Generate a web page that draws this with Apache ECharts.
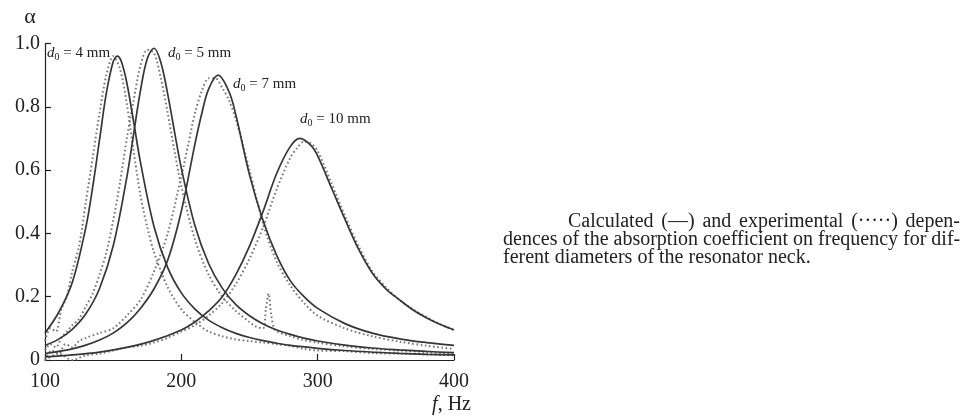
<!DOCTYPE html>
<html>
<head>
<meta charset="utf-8">
<script src="https://cdn.jsdelivr.net/npm/echarts@6/dist/echarts.min.js"></script>
<style>html,body{margin:0;padding:0;background:#fff;}#c{width:972px;height:420px;}</style>
</head>
<body>
<div id="c"></div>
<script>
// ---- data ----
const xTicks = [100, 200, 300, 400];
const yTickLabels = ['0', '0.2', '0.4', '0.6', '0.8', '1.0'];

// calculated, d0 = 4 mm
const freqCalc4 = [100,110,120,130,135,140,145,150,153,156,160,165,170,180,190,200,210,220,230,240,250,260,270,280,300,320,340,360,380,400];
const calc4     = [0.085,0.15,0.245,0.42,0.547,0.696,0.843,0.942,0.96,0.943,0.876,0.753,0.625,0.421,0.292,0.212,0.161,0.126,0.102,0.084,0.071,0.061,0.053,0.046,0.037,0.030,0.025,0.021,0.018,0.016];
// calculated, d0 = 5 mm
const freqCalc5 = [100,110,120,130,140,150,160,165,170,175,180,185,190,195,200,210,220,230,240,250,260,270,280,290,300,320,340,360,380,400];
const calc5     = [0.046,0.066,0.097,0.146,0.226,0.36,0.577,0.714,0.851,0.952,0.985,0.94,0.84,0.721,0.606,0.424,0.305,0.227,0.175,0.14,0.114,0.095,0.081,0.069,0.060,0.047,0.038,0.032,0.027,0.023];
// calculated, d0 = 7 mm
const freqCalc7 = [100,110,120,130,140,150,160,170,180,190,200,210,215,220,227,235,240,250,260,270,280,290,300,320,340,360,380,400];
const calc7     = [0.020,0.027,0.035,0.047,0.063,0.085,0.117,0.163,0.225,0.315,0.47,0.683,0.779,0.856,0.90,0.847,0.774,0.585,0.44,0.33,0.25,0.20,0.163,0.115,0.085,0.067,0.055,0.046];
// calculated, d0 = 10 mm
const freqCalc10 = [100,120,140,160,180,200,210,220,230,240,250,260,270,280,287,295,300,310,320,330,340,350,360,370,380,390,400];
const calc10     = [0.010,0.016,0.025,0.040,0.062,0.095,0.12,0.155,0.20,0.27,0.36,0.47,0.59,0.675,0.70,0.678,0.645,0.545,0.445,0.35,0.275,0.225,0.19,0.158,0.133,0.112,0.095];

// experimental, d0 = 4 mm
const freqExp4 = [100,104,108,112,116,120,125,130,135,140,145,150,155,160,165,170,175,180,190,200,210,220,230,240,250,260,270,280,290,300,320,340,360,380,400];
const exp4     = [0.06,0.10,0.09,0.16,0.20,0.28,0.36,0.50,0.64,0.78,0.90,0.96,0.92,0.81,0.66,0.52,0.42,0.34,0.23,0.16,0.12,0.09,0.075,0.065,0.06,0.055,0.05,0.045,0.035,0.03,0.028,0.022,0.02,0.018,0.015];
// experimental, d0 = 5 mm
const freqExp5 = [100,104,108,112,116,120,125,130,135,140,145,150,155,160,165,170,175,180,185,190,195,200,210,220,230,240,250,255,260,262,264,266,268,270,280,290,300,320,340,360,380,400];
const exp5     = [0.03,0.05,0.04,0.07,0.09,0.11,0.13,0.17,0.21,0.27,0.34,0.44,0.56,0.70,0.82,0.93,0.98,0.97,0.89,0.78,0.66,0.55,0.38,0.27,0.20,0.155,0.12,0.105,0.10,0.16,0.21,0.14,0.10,0.09,0.075,0.063,0.055,0.043,0.035,0.03,0.025,0.02];
// experimental, d0 = 7 mm
const freqExp7 = [100,105,110,115,120,125,130,140,150,160,170,180,190,200,205,210,215,220,225,230,235,240,250,260,270,280,290,300,320,340,360,380,400];
const exp7     = [0.0,0.03,0.02,0.05,0.04,0.06,0.07,0.085,0.10,0.14,0.19,0.28,0.40,0.58,0.68,0.78,0.85,0.89,0.89,0.86,0.82,0.76,0.60,0.43,0.31,0.235,0.18,0.14,0.10,0.075,0.058,0.045,0.035];
// experimental, d0 = 10 mm
const freqExp10 = [100,110,120,130,140,150,160,170,180,190,200,210,220,230,240,250,260,270,280,285,290,295,300,310,320,330,340,350,360,370,380,390,400];
const exp10     = [0.0,0.02,0.0,0.015,0.02,0.03,0.04,0.045,0.055,0.07,0.09,0.11,0.14,0.18,0.24,0.32,0.42,0.54,0.64,0.67,0.69,0.685,0.66,0.56,0.455,0.36,0.28,0.23,0.19,0.16,0.135,0.113,0.095];

const curveLabels = ['4', '5', '7', '10'];
const captionLine1Words = ['Calculated', '(\u2014)', 'and', 'experimental', '(\u00B7\u00B7\u00B7\u00B7\u00B7)', 'depen-'];
const captionLine2 = 'dences of the absorption coefficient on frequency for dif-';
const captionLine3 = 'ferent diameters of the resonator neck.';

// ---- chart ----
const zip = (xs, ys) => xs.map((x, i) => [x, ys[i]]);
const SERIF = "'Liberation Serif', 'Times New Roman', serif";
const INK = '#222';

function calcSeries(name, xs, ys) {
  return { name, type: 'line', data: zip(xs, ys), symbol: 'none', smooth: 0.35, z: 3,
    lineStyle: { color: '#363636', width: 1.7 } };
}
function expSeries(name, xs, ys) {
  return { name, type: 'line', data: zip(xs, ys), symbol: 'none', smooth: 0.3, z: 2,
    lineStyle: { color: '#767676', width: 2, type: [1.6, 2.6], cap: 'butt' } };
}

const chart = echarts.init(document.getElementById('c'), null, { renderer: 'canvas' });

function dLabel(txt, x, y) {
  return { type: 'text', left: x, top: y, z: 10,
    style: { text: '{i|d}{s|0}{n| = ' + txt + ' mm}', fill: INK,
      rich: {
        i: { fontFamily: SERIF, fontStyle: 'italic', fontSize: 15, lineHeight: 18, verticalAlign: 'middle' },
        s: { fontFamily: SERIF, fontSize: 10, lineHeight: 10, verticalAlign: 'bottom' },
        n: { fontFamily: SERIF, fontSize: 15, lineHeight: 18, verticalAlign: 'middle' }
      } } };
}
function cap(txt, x, y, align) {
  return { type: 'text', x: x, y: y, z: 10,
    style: { text: txt, fill: INK, font: '20px ' + SERIF, textAlign: align || 'left', textVerticalAlign: 'middle' } };
}

// justified first caption line (indented), spread between x0 and x1
function justifiedLine(words, x0, x1, y) {
  const ctx = document.createElement('canvas').getContext('2d');
  ctx.font = '20px ' + SERIF;
  const widths = words.map(w => ctx.measureText(w).width);
  const total = widths.reduce((a, b) => a + b, 0);
  const gap = (x1 - x0 - total) / (words.length - 1);
  let x = x0;
  return words.map((w, i) => { const el = cap(w, x, y); x += widths[i] + gap; return el; });
}

chart.setOption({
  animation: false,
  backgroundColor: '#fff',
  grid: { left: 45, right: 518, top: 43.5, bottom: 60, containLabel: false },
  xAxis: {
    type: 'value', min: xTicks[0], max: xTicks[xTicks.length - 1], interval: 100,
    axisLine: { show: true, lineStyle: { color: INK, width: 1.2 } },
    axisTick: { show: true, inside: true, length: 6, lineStyle: { color: INK, width: 1.2 } },
    axisLabel: { fontFamily: SERIF, fontSize: 20, color: INK, margin: 12 },
    splitLine: { show: false }
  },
  yAxis: {
    type: 'value', min: 0, max: 1, interval: 0.2,
    axisLine: { show: true, lineStyle: { color: INK, width: 1.2 } },
    axisTick: { show: true, inside: true, length: 6, lineStyle: { color: INK, width: 1.2 } },
    axisLabel: { fontFamily: SERIF, fontSize: 20, color: INK, margin: 5,
      formatter: v => yTickLabels[Math.round(v / 0.2)] },
    splitLine: { show: false }
  },
  series: [
    expSeries('exp 4 mm', freqExp4, exp4),
    expSeries('exp 5 mm', freqExp5, exp5),
    expSeries('exp 7 mm', freqExp7, exp7),
    expSeries('exp 10 mm', freqExp10, exp10),
    calcSeries('calc 4 mm', freqCalc4, calc4),
    calcSeries('calc 5 mm', freqCalc5, calc5),
    calcSeries('calc 7 mm', freqCalc7, calc7),
    calcSeries('calc 10 mm', freqCalc10, calc10)
  ],
  graphic: [
    { type: 'text', x: 30, y: 17, z: 10, style: { text: 'α', fill: INK, font: '22px ' + SERIF, textAlign: 'center', textVerticalAlign: 'middle' } },
    { type: 'text', x: 471, y: 405, z: 10,
      style: { text: '{i|f}{n|, Hz}', textAlign: 'right', textVerticalAlign: 'middle', fill: INK,
        rich: { i: { fontFamily: SERIF, fontStyle: 'italic', fontSize: 20 }, n: { fontFamily: SERIF, fontSize: 20 } } } },
    dLabel(curveLabels[0], 47, 46),
    dLabel(curveLabels[1], 168, 46),
    dLabel(curveLabels[2], 233, 77),
    dLabel(curveLabels[3], 300, 112),
    ...justifiedLine(captionLine1Words, 568, 960, 222),
    cap(captionLine2, 503, 240),
    cap(captionLine3, 503, 258)
  ]
});
</script>
</body>
</html>
